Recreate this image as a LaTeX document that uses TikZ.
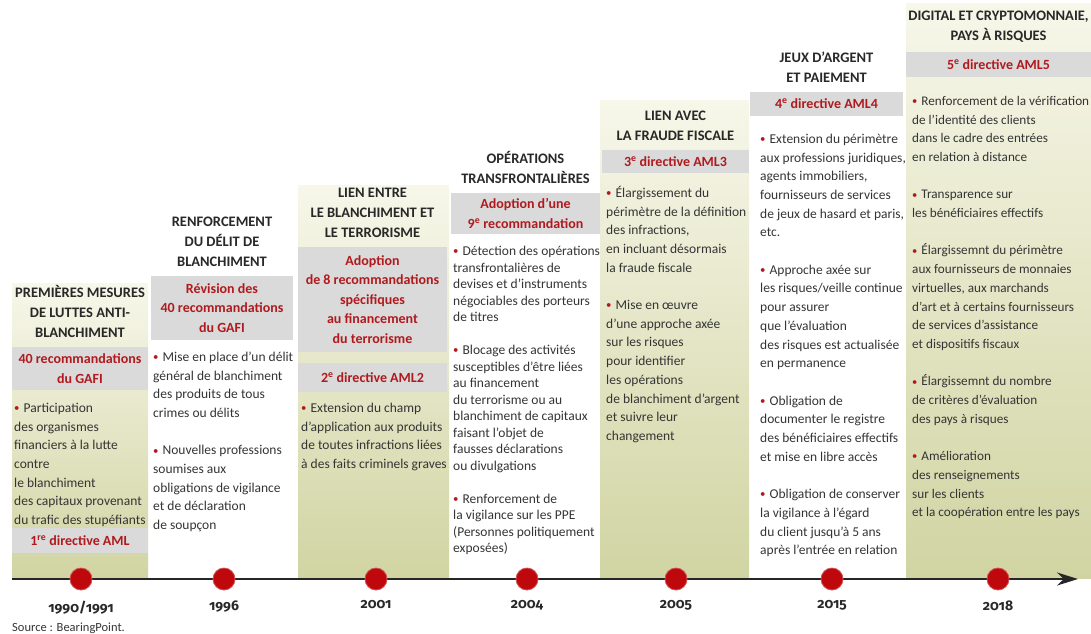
\documentclass[tikz,border=0pt]{standalone}
\usepackage{fontspec}
\setmainfont{Carlito}
\newfontfamily\yearfamily{Fira Sans}[Numbers=OldStyle]
\usetikzlibrary{positioning, arrows.meta}
\definecolor{bandgray}{RGB}{218,218,218}
\definecolor{darkred}{RGB}{176,26,30}
\definecolor{dotred}{RGB}{190,8,12}
\definecolor{olivetop}{RGB}{247,247,234}
\definecolor{olivebot}{RGB}{209,212,162}
\definecolor{headgray}{RGB}{40,40,40}
\definecolor{textgray}{RGB}{52,52,52}
\newcommand{\puce}{\strut{\color{darkred}\raisebox{0.12ex}{\scalebox{0.8}{\textbullet}}}\hspace{0.3em}}
\newcommand{\bodysize}{\fontsize{13.5}{18.7}\selectfont}
\newcommand{\tightsize}{\fontsize{13.5}{16.5}\selectfont}
\newcommand{\widesize}{\fontsize{13.2}{18.7}\selectfont}
\newcommand{\headsize}{\fontsize{14.5}{20}\selectfont}
\newcommand{\bandsize}{\fontsize{14}{19.5}\selectfont}
\newcommand{\yearsize}{\fontsize{14}{18}\selectfont}

\begin{document}
\begin{tikzpicture}[x=1pt, y=1pt,
    olivecol/.style={top color=olivetop, bottom color=olivebot, draw=none},
    headline/.style={font=\headsize\bfseries, text=headgray, align=center, inner sep=0pt},
    band/.style={fill=bandgray, font=\bandsize\bfseries, text=darkred, align=center, inner sep=0pt},
    bodytext/.style={font=\bodysize, text=textgray, align=left, anchor=north west, inner sep=0pt},
    yeardot/.style={circle, fill=dotred, draw=dotred!70!white, line width=0.8pt,
      minimum size=22pt, inner sep=0pt},
    yearlabel/.style={font=\yearfamily\yearsize\bfseries, text=headgray, inner sep=0pt},
    timeaxis/.style={line width=2pt, black!85, -{Stealth[length=21pt, width=13pt]}},
  ]
  \useasboundingbox (0,0) rectangle (1091,-633);

  % fonds des colonnes
  \shade[olivecol] (12,-283) rectangle (148,-578);
  \shade[olivecol] (298,-185) rectangle (449,-578);
  \shade[olivecol] (600,-100) rectangle (749,-578);
  \shade[olivecol] (906,-3) rectangle (1091,-578);

  % 1990/1991
  \node[band, minimum width=136pt, minimum height=43pt] (b1) at (80,-368.5)
    {40 recommandations\\du GAFI};
  \node[headline, above=9pt of b1] (h1) {PREMIÈRES MESURES\\DE LUTTES ANTI-\\BLANCHIMENT};
  \node[bodytext] (t1) at (14,-399) {\puce Participation\\des organismes\\financiers à la lutte\\contre\\
    le blanchiment\\des capitaux provenant\\du trafic des stupéfiants};
  \node[band, minimum width=136pt, minimum height=25pt] (b1b) at (80,-540.5)
    {1\textsuperscript{re} directive AML};

  % 1996
  \node[band, minimum width=142pt, minimum height=64pt] (b2) at (222,-308)
    {Révision des\\40 recommandations\\du GAFI};
  \node[headline, above=9pt of b2] (h2) {RENFORCEMENT\\DU DÉLIT DE\\BLANCHIMENT};
  \node[bodytext] (t2) at (153,-348) {\puce Mise en place d’un délit\\général de blanchiment\\
    des produits de tous\\crimes ou délits\\[18.7pt]
    \puce Nouvelles professions\\soumises aux\\obligations de vigilance\\et de déclaration\\de soupçon};

  % 2001
  \node[band, minimum width=149pt, minimum height=105pt] (b3) at (372.5,-299.5)
    {Adoption\\de 8 recommandations\\spécifiques\\au financement\\du terrorisme};
  \node[headline, above=9pt of b3] (h3) {LIEN ENTRE\\LE BLANCHIMENT ET\\LE TERRORISME};
  \node[band, minimum width=149pt, minimum height=29pt] (b3b) at (372.5,-377.5)
    {2\textsuperscript{e} directive AML2};
  \node[bodytext] (t3) at (301,-399) {\puce Extension du champ\\d’application aux produits\\
    de toutes infractions liées\\à des faits criminels graves};

  % 2004
  \node[band, minimum width=149pt, minimum height=41pt] (b4) at (525.5,-213.5)
    {Adoption d’une\\9\textsuperscript{e} recommandation};
  \node[headline, above=9pt of b4] (h4) {OPÉRATIONS\\TRANSFRONTALIÈRES};
  \node[bodytext, font=\tightsize] (t4) at (453,-244) {\puce Détection des opérations\\
    transfrontalières de\\devises et d’instruments\\négociables des porteurs\\de titres\\[16.5pt]
    \puce Blocage des activités\\susceptibles d’être liées\\au financement\\du terrorisme ou au\\
    blanchiment de capitaux\\faisant l’objet de\\fausses déclarations\\ou divulgations\\[16.5pt]
    \puce Renforcement de\\la vigilance sur les PPE\\(Personnes politiquement\\exposées)};

  % 2005
  \node[band, minimum width=147pt, minimum height=23pt] (b5) at (675.5,-161.5)
    {3\textsuperscript{e} directive AML3};
  \node[headline, above=9pt of b5] (h5) {LIEN AVEC\\LA FRAUDE FISCALE};
  \node[bodytext] (t5) at (606,-184) {\puce Élargissement du\\périmètre de la définition\\
    des infractions,\\en incluant désormais\\la fraude fiscale\\[18.7pt]
    \puce Mise en œuvre\\d’une approche axée\\sur les risques\\pour identifier\\les opérations\\
    de blanchiment d’argent\\et suivre leur\\changement};

  % 2015
  \node[band, minimum width=153pt, minimum height=24pt] (b6) at (826.5,-104)
    {4\textsuperscript{e} directive AML4};
  \node[headline, above=9pt of b6] (h6) {JEUX D’ARGENT\\ET PAIEMENT};
  \node[bodytext] (t6) at (760,-130) {\puce Extension du périmètre\\aux professions juridiques,\\
    agents immobiliers,\\fournisseurs de services\\de jeux de hasard et paris,\\etc.\\[18.7pt]
    \puce Approche axée sur\\les risques/veille continue\\pour assurer\\que l’évaluation\\
    des risques est actualisée\\en permanence\\[18.7pt]
    \puce Obligation de\\documenter le registre\\des bénéficiaires effectifs\\et mise en libre accès\\[18.7pt]
    \puce Obligation de conserver\\la vigilance à l’égard\\du client jusqu’à 5 ans\\après l’entrée en relation};

  % 2018
  \node[band, minimum width=185pt, minimum height=25pt] (b7) at (998.5,-64.5)
    {5\textsuperscript{e} directive AML5};
  \node[headline, above=9pt of b7] (h7) {DIGITAL ET CRYPTOMONNAIE,\\PAYS À RISQUES};
  \node[bodytext, font=\widesize] (t7) at (912,-92) {\puce Renforcement de la vérification\\de l’identité des clients\\
    dans le cadre des entrées\\en relation à distance\\[18.7pt]
    \puce Transparence sur\\les bénéficiaires effectifs\\[18.7pt]
    \puce Élargissemnt du périmètre\\aux fournisseurs de monnaies\\virtuelles, aux marchands\\
    d’art et à certains fournisseurs\\de services d’assistance\\et dispositifs fiscaux\\[18.7pt]
    \puce Élargissemnt du nombre\\de critères d’évaluation\\des pays à risques\\[18.7pt]
    \puce Amélioration\\des renseignements\\sur les clients\\et la coopération entre les pays};

  % axe du temps
  \coordinate (axstart) at (12,-579);
  \coordinate (axend) at (1078,-579);
  \draw[timeaxis] (axstart) -- (axend);

  \node[yeardot] (d1) at (81,-579) {};
  \node[yeardot] (d2) at (224,-579) {};
  \node[yeardot] (d3) at (376,-579) {};
  \node[yeardot] (d4) at (527,-579) {};
  \node[yeardot] (d5) at (676,-579) {};
  \node[yeardot] (d6) at (832,-579) {};
  \node[yeardot] (d7) at (998,-579) {};

  \node[yearlabel, below=10pt of d1] (y1) {1990/1991};
  \node[yearlabel, below=10pt of d2] (y2) {1996};
  \node[yearlabel, below=10pt of d3] (y3) {2001};
  \node[yearlabel, below=10pt of d4] (y4) {2004};
  \node[yearlabel, below=10pt of d5] (y5) {2005};
  \node[yearlabel, below=10pt of d6] (y6) {2015};
  \node[yearlabel, below=10pt of d7] (y7) {2018};

  \node[font=\fontsize{12.5}{14}\selectfont, text=textgray, anchor=base west, inner sep=0pt]
    (src) at (12,-631) {Source : BearingPoint.};
\end{tikzpicture}
\end{document}
